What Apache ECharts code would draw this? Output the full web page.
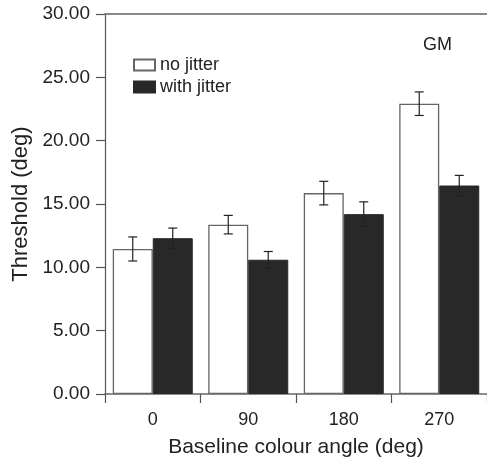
<!DOCTYPE html>
<html><head><meta charset="utf-8">
<script src="https://cdn.jsdelivr.net/npm/echarts@6/dist/echarts.min.js"></script>
<style>html,body{margin:0;padding:0;background:#fff}#c{width:487px;height:463px}</style>
</head><body><div id="c"></div>
<script>
const categories = ['0', '90', '180', '270'];
const noJitter = [11.45, 13.37, 15.86, 22.92];
const noJitterErr = [0.95, 0.73, 0.93, 0.93];
const withJitter = [12.3, 10.6, 14.2, 16.46];
const withJitterErr = [0.8, 0.65, 0.97, 0.8];
const yTicks = [0, 5, 10, 15, 20, 25, 30];

const BAR_W = 40;
function errSeries(name, vals, errs, offset) {
  return {
    type: 'custom', name: name + ' err', silent: true, z: 5,
    data: vals.map((v, i) => [i, v, errs[i]]),
    encode: { x: 0, y: 1 },
    renderItem: function (params, api) {
      const i = api.value(0), v = api.value(1), e = api.value(2);
      const top = api.coord([i, v + e]);
      const bot = api.coord([i, v - e]);
      const x = top[0] + offset;
      const cw = 4.5;
      const st = { stroke: '#222', lineWidth: 1.2 };
      return { type: 'group', children: [
        { type: 'line', shape: { x1: x, y1: top[1], x2: x, y2: bot[1] }, style: st },
        { type: 'line', shape: { x1: x - cw, y1: top[1], x2: x + cw, y2: top[1] }, style: st },
        { type: 'line', shape: { x1: x - cw, y1: bot[1], x2: x + cw, y2: bot[1] }, style: st }
      ]};
    }
  };
}

const chart = echarts.init(document.getElementById('c'));
chart.setOption({
  animation: false,
  textStyle: { fontFamily: 'Liberation Sans, Arial, sans-serif', color: '#222' },
  grid: { left: 105, top: 14, right: 0, bottom: 67 },
  legend: {
    orient: 'vertical', left: 128, top: 51, itemGap: 4,
    itemWidth: 21, itemHeight: 11, icon: 'rect',
    textStyle: { fontSize: 18, color: '#222', fontFamily: 'Liberation Sans, Arial, sans-serif' },
    data: ['no jitter', 'with jitter']
  },
  graphic: [{ type: 'text', right: 35, top: 36, style: { text: 'GM', fontSize: 18, fill: '#222', fontFamily: 'Liberation Sans, Arial, sans-serif' } }],
  xAxis: [{
    type: 'category', data: categories, position: 'bottom',
    axisLine: { lineStyle: { color: '#666', width: 1.5 } },
    axisTick: { show: true, length: 9, lineStyle: { color: '#555', width: 1.2 } },
    axisLabel: { fontSize: 18, color: '#222', margin: 17 },
    name: 'Baseline colour angle (deg)', nameLocation: 'middle', nameGap: 43,
    nameTextStyle: { fontSize: 21, color: '#222' }
  }, {
    type: 'category', data: categories, position: 'top',
    axisLine: { show: true, lineStyle: { color: '#888', width: 2 } },
    axisTick: { show: false }, axisLabel: { show: false }
  }],
  yAxis: {
    type: 'value', min: 0, max: 30, interval: 5,
    axisLine: { show: true, lineStyle: { color: '#555', width: 1.2 } },
    axisTick: { show: true, length: 9, lineStyle: { color: '#555', width: 1.2 } },
    axisLabel: { fontSize: 19, color: '#222', margin: 15, formatter: v => v.toFixed(2) },
    splitLine: { show: false },
    name: 'Threshold (deg)', nameLocation: 'middle', nameGap: 72,
    nameTextStyle: { fontSize: 22, color: '#222' }
  },
  series: [
    { name: 'no jitter', type: 'bar', data: noJitter, barWidth: BAR_W, barGap: '0%',
      itemStyle: { color: '#fff', borderColor: '#666', borderWidth: 1.3 } },
    { name: 'with jitter', type: 'bar', data: withJitter, barWidth: BAR_W, barGap: '0%',
      itemStyle: { color: '#282828', borderColor: '#282828', borderWidth: 1 } },
    errSeries('no jitter', noJitter, noJitterErr, -BAR_W / 2),
    errSeries('with jitter', withJitter, withJitterErr, BAR_W / 2)
  ]
});
</script></body></html>
